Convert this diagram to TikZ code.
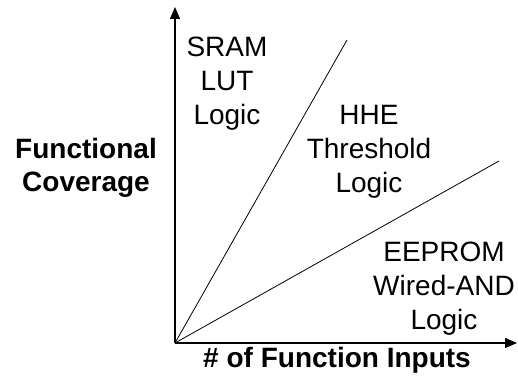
\documentclass[tikz,border=0pt]{standalone}
\usepackage{fontspec}
\setmainfont{Liberation Sans}
\usetikzlibrary{arrows.meta, positioning}

\begin{document}
\begin{tikzpicture}[x=1pt, y=1pt, >={Triangle[length=12pt, width=10pt]},
    axis/.style={->, line width=1.3pt},
    ray/.style={line width=0.8pt},
    region/.style={align=center, anchor=base, font=\fontsize{28}{34}\selectfont},
    axislabel/.style={align=center, anchor=base, font=\fontsize{28}{33}\selectfont\bfseries}]
    \useasboundingbox (0, 0) rectangle (518, 379);

    % Axes
    \coordinate (orig) at (175, 36);
    \coordinate (ytip) at (175, 372);
    \coordinate (xtip) at (517, 36);
    \draw[axis] (orig) -- (ytip);
    \draw[axis] (orig) -- (xtip);

    % Boundaries between regions
    \coordinate (steep) at (347, 339);
    \coordinate (shallow) at (499, 218);
    \foreach \tip in {steep, shallow} {
        \draw[ray] (orig) -- (\tip);
    }

    % Region labels (base = last line)
    \node[region] (sram) at (227, 254) {SRAM\\LUT\\Logic};
    \node[region] (hhe) at (369, 186) {HHE\\Threshold\\Logic};
    \node[region] (eeprom) at (444, 49) {EEPROM\\Wired-AND\\Logic};

    % Axis labels
    \node[axislabel] (ylab) at (86, 187) {Functional\\Coverage};
    \node[axislabel] (xlab) at (337, 11) {\# of Function Inputs};
\end{tikzpicture}
\end{document}
